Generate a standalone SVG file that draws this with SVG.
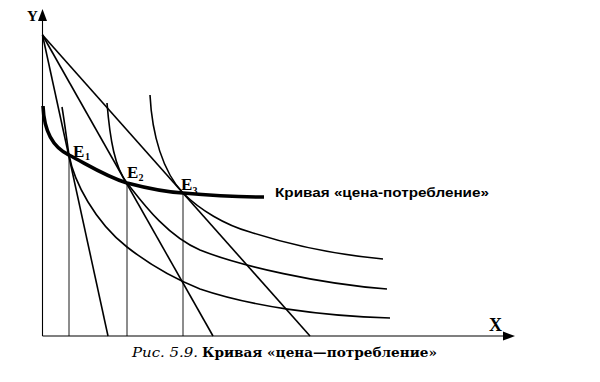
<svg xmlns="http://www.w3.org/2000/svg" width="600" height="382" viewBox="0 0 600 382">
<defs>
<style>
.ax{stroke:#000;stroke-width:1.1;fill:none}
.bl{stroke:#000;stroke-width:1.6;fill:none}
.ic{stroke:#000;stroke-width:1.6;fill:none}
.vl{stroke:#000;stroke-width:0.9;fill:none}
.pcc{stroke:#000;stroke-width:3.6;fill:none;stroke-linecap:butt}
.lbl{font-family:"Liberation Serif","Times New Roman",serif;font-weight:bold;fill:#000}
.sans{font-family:"Liberation Sans",Arial,sans-serif;font-weight:bold;fill:#000}
.cap{font-family:"DejaVu Serif","Liberation Serif",serif;fill:#000}
</style>
</defs>
<rect width="600" height="382" fill="#fff"/>
<g id="axes">
<line class="ax" x1="42.5" y1="336" x2="42.5" y2="18"/>
<path d="M42.5,9 L38,21 L47,21 Z" fill="#000" stroke="none"/>
<line class="ax" x1="42.5" y1="336" x2="506" y2="336"/>
<path d="M515,336 L503,331.5 L503,340.5 Z" fill="#000" stroke="none"/>
<text class="lbl" x="27" y="21" font-size="15">Y</text>
<text class="lbl" x="489" y="331" font-size="18">X</text>
</g>
<g id="connectors">
<g id="budget-lines">
<line class="bl" x1="42.5" y1="35" x2="108" y2="336"/>
<line class="bl" x1="42.5" y1="35" x2="213" y2="336"/>
<line class="bl" x1="42.5" y1="35" x2="310" y2="336"/>
</g>
<g id="verticals">
<line class="vl" x1="69" y1="155" x2="69" y2="336"/>
<line class="vl" x1="127" y1="183" x2="127" y2="336"/>
<line class="vl" x1="183" y1="193" x2="183" y2="336"/>
</g>
<g id="indifference-curves">
<path class="ic" d="M62,107 C65,125 67,142 69,155 C74,182 95,222 127,247 C150,265 175,279 200,289 C250,306 320,316 390,318"/>
<path class="ic" d="M107,103 C110,140 115,168 127,183 C139,198 165,235 200,250 C240,266 320,284 387,289"/>
<path class="ic" d="M150,95 C152,135 163,172 183,193 C200,210 225,225 250,232 C290,245 340,255 383,259"/>
</g>
<path id="pcc" class="pcc" d="M43,106 C44,130 52,147 69,155 C90,166 105,176 127,183 C150,189 165,192 183,193 C215,196 240,197 264,197"/>
</g>
<g id="E1">
<text class="lbl" x="73" y="157" font-size="17">E</text>
<text class="lbl" x="85" y="160" font-size="10">1</text>
</g>
<g id="E2">
<text class="lbl" x="127" y="178" font-size="17">E</text>
<text class="lbl" x="138.5" y="181" font-size="10">2</text>
</g>
<g id="E3">
<text class="lbl" x="181" y="190" font-size="17">E</text>
<text class="lbl" x="192.5" y="194" font-size="10">3</text>
</g>
<g id="pcc-label">
<text class="sans" x="275" y="197" font-size="12.5" textLength="214" lengthAdjust="spacingAndGlyphs">Кривая «цена-потребление»</text>
</g>
<g id="caption">
<text class="cap" x="132" y="357" font-size="13.5" font-style="italic" textLength="66" lengthAdjust="spacingAndGlyphs">Рис. 5.9.</text>
<text class="cap" x="202" y="357" font-size="13.5" font-weight="bold" textLength="235" lengthAdjust="spacingAndGlyphs">Кривая «цена—потребление»</text>
</g>
</svg>
